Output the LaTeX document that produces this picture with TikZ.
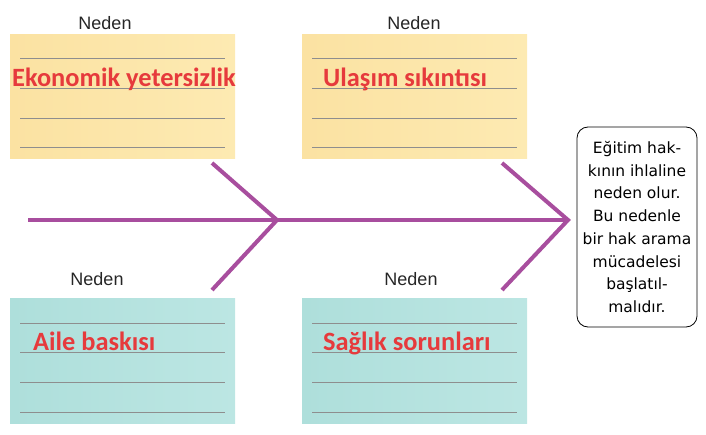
\documentclass[tikz,border=0pt]{standalone}
\usepackage{fontspec}
\setmainfont{Liberation Sans}
\newfontfamily\causefont{Carlito}
\newfontfamily\effectfont{DejaVu Sans}
\definecolor{purp}{HTML}{A84E9E}
\definecolor{causered}{HTML}{E63A3C}
\definecolor{yelA}{HTML}{FBE2A2}
\definecolor{yelB}{HTML}{FDEAB2}
\definecolor{tealA}{HTML}{AEDFDB}
\definecolor{tealB}{HTML}{BCE6E3}
\definecolor{rulegray}{HTML}{8E8E8E}
\tikzset{
  ybox/.style={draw=none, left color=yelA, right color=yelB, minimum width=225pt, minimum height=124pt, anchor=north west, inner sep=0pt},
  tbox/.style={draw=none, left color=tealA, right color=tealB, minimum width=225pt, minimum height=125pt, anchor=north west, inner sep=0pt},
  ruled/.style={draw=rulegray, line width=0.9pt},
  causetext/.style={text=causered, font=\causefont\bfseries\fontsize{26.4}{28}\selectfont, anchor=base west, inner sep=0pt},
  nedenlbl/.style={text=black!85, font=\fontsize{18}{20}\selectfont, anchor=base, inner sep=0pt},
  bone/.style={draw=purp, line width=4pt},
  effectbox/.style={draw=black, line width=0.8pt, rounded corners=11pt, fill=white, minimum width=120pt, minimum height=200pt, align=center, font=\effectfont\fontsize{15.5}{22.7}\selectfont}
}
\begin{document}
\begin{tikzpicture}[x=1pt,y=-1pt]
\useasboundingbox (0,0) rectangle (706,435);
% boxes
\node[ybox] (b1) at (10,34) {};
\node[ybox] (b2) at (302,34) {};
\node[tbox] (b3) at (10,298) {};
\node[tbox] (b4) at (302,298) {};
\foreach \y in {58,88,118,147} {
  \draw[ruled] (20,\y) -- (225,\y);
  \draw[ruled] (312,\y) -- (517,\y);
}
\foreach \y in {323,352,382,412} {
  \draw[ruled] (20,\y) -- (225,\y);
  \draw[ruled] (312,\y) -- (517,\y);
}
% labels
\node[nedenlbl] (n1) at (105,30) {Neden};
\node[nedenlbl] (n2) at (414,30) {Neden};
\node[nedenlbl] (n3) at (97,286) {Neden};
\node[nedenlbl] (n4) at (411,286) {Neden};
\node[causetext] (t1) at (12,87) {Ekonomik yetersizlik};
\node[causetext] (t2) at (323,87) {Ulaşım sıkıntısı};
\node[causetext] (t3) at (33,350) {Aile baskısı};
\node[causetext] (t4) at (323,350) {Sağlık sorunları};
% fishbone
\coordinate (s0) at (28,220);
\coordinate (c1) at (277,220);
\coordinate (c1a) at (212,163);
\coordinate (c1b) at (212,290);
\coordinate (c2) at (568,220);
\coordinate (c2a) at (502,163);
\coordinate (c2b) at (502,290);
\draw[bone] (s0) -- (c2);
\draw[bone] (c1a) -- (c1) -- (c1b);
\draw[bone] (c2a) -- (c2) -- (c2b);
% effect
\node[effectbox] (eff) at (637,227) {Eğitim hak-\\kının ihlaline\\neden olur.\\Bu nedenle\\bir hak arama\\mücadelesi\\başlatıl-\\malıdır.};
\end{tikzpicture}
\end{document}
